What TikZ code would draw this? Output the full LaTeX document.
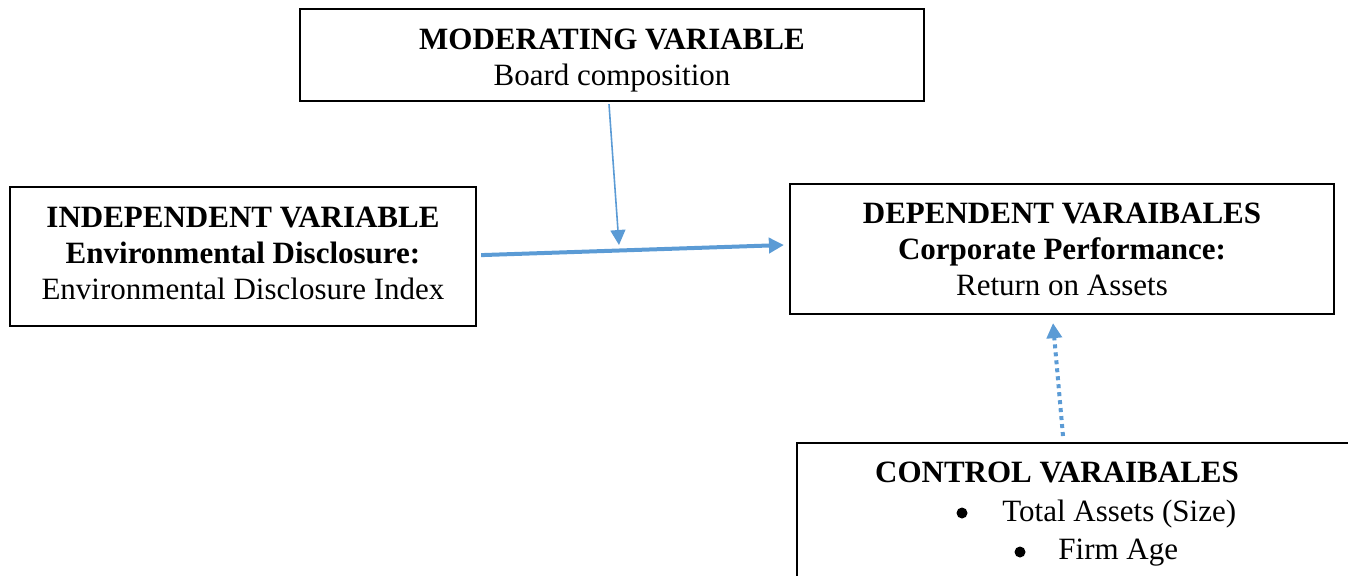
\documentclass[tikz,border=0pt]{standalone}
\usepackage{fontspec}
\setmainfont{Liberation Serif}
\usetikzlibrary{calc,arrows.meta}
\definecolor{linkblue}{RGB}{91,155,213}
\tikzset{
  varbox/.style={draw, line width=1.1pt, align=center, inner sep=0pt,
    font=\fontsize{15.5}{18}\selectfont},
  itemtext/.style={inner sep=0pt, font=\fontsize{15.5}{18}\selectfont},
  itemdot/.style={circle, fill=black, inner sep=0pt, minimum size=5.5pt},
  link/.style={linkblue, -{Triangle[length=7.5pt,width=7.5pt]}},
}

\begin{document}
\begin{tikzpicture}[x=0.5pt, y=-0.5pt]
        \useasboundingbox (0,0) rectangle (1348,575);
        \clip (0,0) rectangle (1348,575);

        \node[varbox, minimum width=312pt, minimum height=46pt] (mod) at (612,55)
            {\rule{0pt}{16pt}\textbf{MODERATING VARIABLE}\\Board composition};
        \node[varbox, minimum width=233pt, minimum height=69.5pt] (indep) at (243,256.5)
            {\textbf{INDEPENDENT VARIABLE}\\\textbf{Environmental Disclosure:}\\Environmental Disclosure Index\rule[-3pt]{0pt}{3pt}};
        \node[varbox, minimum width=272pt, minimum height=65pt] (dep) at (1062,249)
            {\textbf{DEPENDENT VARAIBALES}\\\textbf{Corporate Performance:}\\Return on Assets};
        \node[varbox, anchor=north west, minimum width=290pt, minimum height=80pt] (ctrl) at (796,442) {};

        \node[itemtext] (ctrltitle) at (1057,472) {\textbf{CONTROL VARAIBALES}};
        \node[itemdot] (dota) at (962,513) {};
        \node[itemtext, anchor=west] (itema) at (1002,514) {Total Assets (Size)};
        \node[itemdot] (dotb) at (1020,552) {};
        \node[itemtext, anchor=west] (itemb) at (1058,553) {Firm Age};

        \coordinate (meet) at (619,245);

        \draw[link, line width=2pt] ([xshift=2pt,yshift=0.7pt]indep.east) -- ([xshift=-2.5pt,yshift=2pt]dep.west);
        \draw[link, line width=0.8pt] ([xshift=-1.5pt,yshift=-1pt]mod.south) -- (meet);
        \draw[link, line width=2pt, dash pattern=on 2pt off 2pt] ($(ctrl.north west)+(267,-6)$) -- ($(dep.south)+(-9,8)$);
    \end{tikzpicture}
\end{document}
